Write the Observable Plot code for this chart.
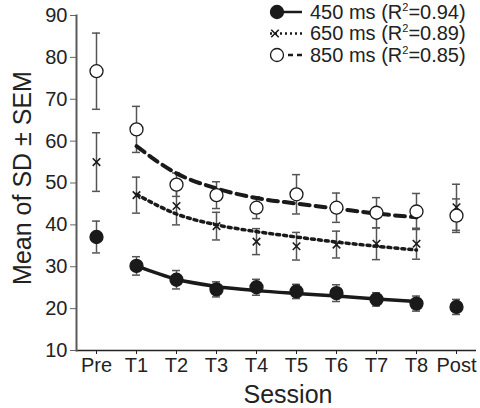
<!DOCTYPE html>
<html><head><meta charset="utf-8">
<script src="https://cdn.jsdelivr.net/npm/d3@7"></script>
<script src="https://cdn.jsdelivr.net/npm/@observablehq/plot@0.6"></script>
<style>body{margin:0;background:#fff;} #chart{width:480px;height:408px;}</style>
</head><body><div id="chart"></div>
<script>
const sessions = ["Pre","T1","T2","T3","T4","T5","T6","T7","T8","Post"];
const fitSessions = ["T1","T2","T3","T4","T5","T6","T7","T8"];
const yTicks = [10,20,30,40,50,60,70,80,90];

const mean450 = [37.1, 30.2, 26.9, 24.6, 25.1, 24.1, 23.7, 22.2, 21.2, 20.4];
const sem450  = [3.8, 2.2, 2.2, 1.8, 1.9, 1.7, 2.0, 1.6, 1.8, 1.8];
const mean650 = [55.0, 47.1, 44.5, 39.7, 36.0, 34.9, 35.3, 35.5, 35.5, 44.2];
const sem650  = [7.0, 4.3, 4.5, 3.3, 3.1, 3.3, 3.2, 3.8, 3.7, 5.5];
const mean850 = [76.7, 62.8, 49.6, 47.1, 44.1, 47.3, 44.1, 42.9, 43.2, 42.2];
const sem850  = [9.1, 5.5, 2.8, 3.2, 2.6, 4.7, 3.5, 3.6, 4.3, 4.0];

const fit450 = [30.2, 27.0, 25.3, 24.3, 23.6, 23.0, 22.3, 21.7];
const fit650 = [47.3, 42.6, 40.0, 38.4, 37.1, 35.9, 34.9, 34.0];
const fit850 = [58.8, 52.3, 48.7, 46.4, 45.1, 43.9, 42.7, 41.8];

const seriesNames = ["450 ms", "650 ms", "850 ms"];
const r2Values = ["0.94", "0.89", "0.85"];

const FONT = "'Liberation Sans', Arial, Helvetica, sans-serif";
const styles = [
  {symbol: "circle", fill: "#1a1a1a", stroke: "#1a1a1a", r: 6.5, dash: null, lw: 3.5},
  {symbol: "times", fill: "none", stroke: "#1a1a1a", r: 3.5, dash: "3,4", lw: 3.5},
  {symbol: "circle", fill: "white", stroke: "#1a1a1a", r: 6.5, dash: "10,6", lw: 4}
];

const means = [mean450, mean650, mean850];
const sems = [sem450, sem650, sem850];
const fits = [fit450, fit650, fit850];

const pts = means.map((m, k) => sessions.map((s, i) => ({session: s, mean: m[i], sem: sems[k][i]})));
const lines = fits.map(f => fitSessions.map((s, i) => ({session: s, v: f[i]})));

const marks = [];
pts.forEach(p => {
  marks.push(Plot.ruleX(p, {x: "session", y1: d => d.mean - d.sem, y2: d => d.mean + d.sem, stroke: "#555", strokeWidth: 1.5}));
  marks.push(Plot.tickY(p, {x: "session", y: d => d.mean + d.sem, stroke: "#555", strokeWidth: 1.5, insetLeft: 16, insetRight: 16}));
  marks.push(Plot.tickY(p, {x: "session", y: d => d.mean - d.sem, stroke: "#555", strokeWidth: 1.5, insetLeft: 16, insetRight: 16}));
});
lines.forEach((l, k) => {
  marks.push(Plot.line(l, {x: "session", y: "v", curve: "monotone-x", stroke: "#1a1a1a", strokeWidth: styles[k].lw, strokeDasharray: styles[k].dash}));
});
pts.forEach((p, k) => {
  const st = styles[k];
  marks.push(Plot.dot(p, {x: "session", y: "mean", symbol: st.symbol, r: st.r, fill: st.fill, stroke: st.stroke, strokeWidth: k === 1 ? 1.6 : 1.3}));
});

const chart = Plot.plot({
  width: 480, height: 408,
  marginLeft: 76, marginRight: 4, marginTop: 15, marginBottom: 58,
  style: {fontFamily: FONT, fontSize: "20px", background: "white", color: "#222"},
  x: {type: "band", domain: sessions, padding: 0, label: null},
  y: {domain: [10, 90], label: null},
  marks: [
    Plot.axisY({ticks: yTicks, tickSize: 6, tickPadding: 3, stroke: "#666", fill: "#222", fontSize: 20, label: null}),
    Plot.axisX({tickSize: 4, tickPadding: 3, stroke: "#222", fill: "#222", fontSize: 20, label: null}),
    ...marks,
    Plot.ruleY([10], {stroke: "#222", strokeWidth: 1.5}),
    Plot.frame({anchor: "left", stroke: "#5a5a5a", strokeWidth: 2})
  ]
});
document.getElementById("chart").appendChild(chart);

const svg = d3.select(chart);
// axis titles
svg.append("text").attr("x", 288).attr("y", 403).attr("text-anchor", "middle")
  .attr("font-family", FONT).attr("font-size", 25).attr("fill", "#222").text("Session");
svg.append("text").attr("transform", "translate(31,178) rotate(-90)").attr("text-anchor", "middle")
  .attr("font-family", FONT).attr("font-size", 25).attr("fill", "#222").text("Mean of SD ± SEM");

// legend
const lg = svg.append("g");
seriesNames.forEach((name, k) => {
  const st = styles[k];
  const cy = 12 + k * 21.5;
  const g = lg.append("g");
  g.append("line").attr("x1", 270).attr("x2", 302).attr("y1", cy).attr("y2", cy)
    .attr("stroke", "#1a1a1a").attr("stroke-width", 2.5)
    .attr("stroke-dasharray", k === 1 ? "2,3" : (k === 2 ? "5,4" : null));
  if (st.symbol === "circle") {
    g.append("circle").attr("cx", 277).attr("cy", cy).attr("r", 6.5)
      .attr("fill", st.fill).attr("stroke", st.stroke).attr("stroke-width", 1.3);
  } else {
    g.append("path").attr("d", d3.symbol(d3.symbolTimes, Math.PI * 3.5 * 3.5)())
      .attr("transform", `translate(275,${cy})`).attr("stroke", "#1a1a1a").attr("stroke-width", 1.6).attr("fill", "none");
  }
  const t = g.append("text").attr("x", 310).attr("y", cy + 6.5).attr("text-anchor", "start")
    .attr("font-family", FONT).attr("font-size", 20).attr("fill", "#222");
  t.append("tspan").text(name + " (R");
  t.append("tspan").attr("font-size", 11).attr("dy", -8).text("2");
  t.append("tspan").attr("dy", 8).text("=" + r2Values[k] + ")");
});
</script>
</body></html>
